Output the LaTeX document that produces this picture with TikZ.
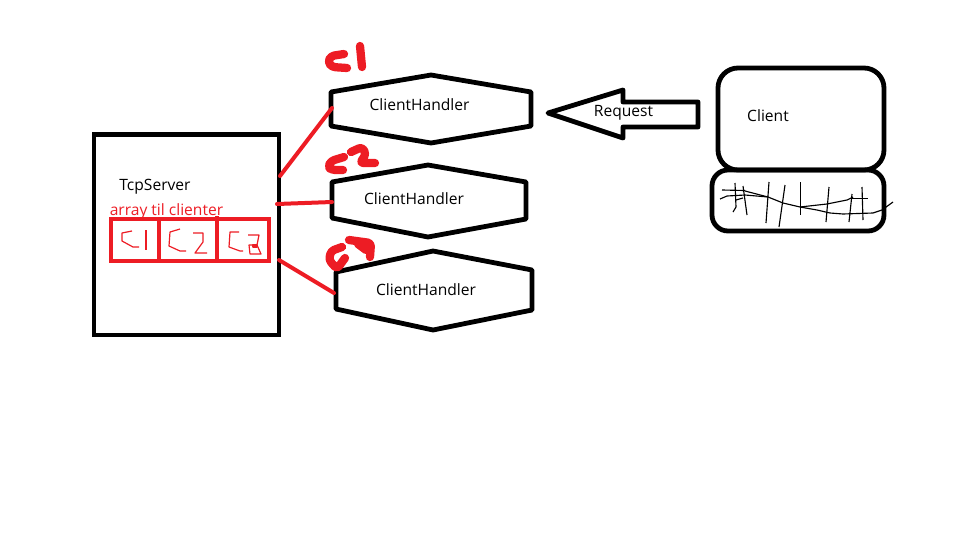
\documentclass[tikz,border=0pt]{standalone}
\usepackage{fontspec}
\setmainfont{Open Sans}
\definecolor{paintred}{RGB}{237,28,36}
\tikzset{
    outline/.style={draw=black, line width=3.6pt, line join=round, line cap=round},
    redbox/.style={draw=paintred, line width=3.2pt},
    redlink/.style={draw=paintred, line width=3pt, line cap=round},
    marker/.style={draw=paintred, line width=6.2pt, line cap=round, line join=round, rounded corners=2.5pt},
    pen/.style={draw=paintred, line width=0.9pt, line join=round},
    scribble/.style={draw=black, line width=0.85pt, line join=round},
    caption/.style={font=\fontsize{11.7}{14}\selectfont, text=black, inner sep=0pt}
}
\begin{document}
\begin{tikzpicture}[x=0.75pt, y=-0.75pt]
    \useasboundingbox (0, 0) rectangle (960, 540);
    % server
    \draw[outline, line join=miter] (94, 134.5) rectangle (279, 335);
    \node[caption] (tcpserver) at (155, 187) {TcpServer};
    \node[caption, text=paintred] (arraylabel) at (166.5, 211) {array til clienter};
    % array
    \draw[redbox] (111, 219) rectangle (269, 261);
    \draw[redbox] (159, 219) -- (159, 261);
    \draw[redbox] (217, 216) -- (217, 263);
    \draw[pen] (132, 231) -- (122, 233) -- (122, 241) -- (133, 247) -- (139, 247);
    \draw[pen] (146, 230) -- (146, 250);
    \draw[pen] (180, 229) -- (170, 232) -- (169, 246) -- (180, 251) -- (186, 251);
    \draw[pen] (193, 233) -- (203, 233) -- (203, 242) -- (195, 253) -- (207, 253);
    \draw[pen] (239, 232) -- (230, 232) -- (229, 247) -- (240, 251) -- (243, 251);
    \draw[pen] (248, 235) -- (259, 235) -- (257, 245) -- (261, 254) -- (250, 254) -- (249, 245) -- (257, 245);
    \draw[pen] (253, 245) rectangle (257, 247);
    % handlers
    \draw[outline] (331, 92) -- (431, 75) -- (531, 92) -- (531, 126) -- (431, 143) -- (331, 126) -- cycle;
    \draw[outline] (332, 182) -- (428, 165) -- (526, 182) -- (526, 219) -- (428, 237) -- (332, 218) -- cycle;
    \draw[outline] (336, 272) -- (433, 251) -- (532, 270) -- (532, 310) -- (433, 330) -- (336, 309) -- cycle;
    \node[caption] (handlera) at (419.5, 105) {ClientHandler};
    \node[caption] (handlerb) at (414, 199) {ClientHandler};
    \node[caption] (handlerc) at (426, 290) {ClientHandler};
    % links
    \coordinate (serverne) at (280, 176);
    \coordinate (servere) at (277, 204);
    \coordinate (serverse) at (279, 260);
    \coordinate (handleraw) at (332, 108);
    \coordinate (handlerbw) at (332, 202);
    \coordinate (handlercw) at (334, 293);
    \draw[redlink] (serverne) -- (handleraw);
    \draw[redlink] (servere) -- (handlerbw);
    \draw[redlink] (serverse) -- (handlercw);
    % marker labels
    \draw[marker] (344, 54) -- (331, 56) -- (328, 62) -- (332, 67) -- (347, 68);
    \draw[marker] (360, 46) -- (362, 67);
    \draw[marker] (344, 157) -- (331, 161) -- (328, 167) -- (332, 170) -- (343, 170);
    \draw[marker] (351, 152) -- (362, 147) -- (366, 154) -- (360, 163) -- (375, 163);
    \draw[marker] (342, 247) -- (331, 251) -- (329, 260) -- (337, 269) -- (345, 258);
    \draw[marker] (349, 240) -- (371, 243) -- (370, 257);
    \draw[marker] (358, 244) -- (366, 250);
    % request
    \draw[outline] (548, 113) -- (623, 90) -- (623, 102) -- (698, 102) -- (698, 127) -- (623, 127) -- (623, 138) -- cycle;
    \node[caption] (request) at (623.5, 113) {Request};
    % client
    \draw[outline] (718, 88) arc[start angle=180, end angle=270, radius=20] -- (864, 68) arc[start angle=270, end angle=360, radius=20] -- (884, 150) arc[start angle=0, end angle=90, radius=20] -- (738, 170) arc[start angle=90, end angle=180, radius=20] -- cycle;
    \draw[outline] (712, 186) arc[start angle=180, end angle=270, radius=16] -- (868, 170) arc[start angle=270, end angle=360, radius=16] -- (884, 215) arc[start angle=0, end angle=90, radius=16] -- (728, 231) arc[start angle=90, end angle=180, radius=16] -- cycle;
    \node[caption] (client) at (768, 116) {Client};
    % keys
    \draw[scribble] (720, 199) -- (727, 196) -- (745, 195) -- (768, 197) -- (783, 203) -- (800, 207) -- (817, 210) -- (830, 213) -- (843, 214) -- (873, 213) -- (882, 210) -- (893, 202);
    \draw[scribble] (745, 191) -- (768, 197);
    \draw[scribble] (800, 207) -- (827, 204) -- (847, 200) -- (853, 197);
    \draw[scribble] (722, 190) -- (745, 190.5);
    \draw[scribble] (743, 186) -- (747, 215);
    \draw[scribble] (735, 183) -- (736, 207) -- (733, 212);
    \draw[scribble] (736, 200) -- (743, 198);
    \draw[scribble] (769, 182) -- (766, 223);
    \draw[scribble] (785, 185) -- (779, 227);
    \draw[scribble] (800.5, 182) -- (800.5, 215);
    \draw[scribble] (829, 187) -- (826, 222);
    \draw[scribble] (852, 194) -- (849, 222);
    \draw[scribble] (852, 198.5) -- (868, 198.5);
    \draw[scribble] (862, 187) -- (863, 220);
\end{tikzpicture}
\end{document}
